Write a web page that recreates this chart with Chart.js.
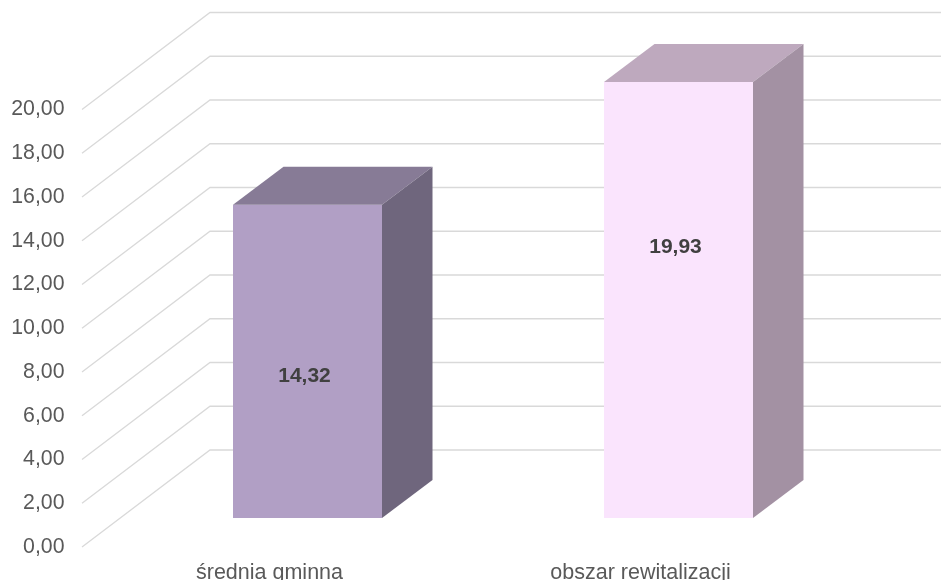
<!DOCTYPE html>
<html><head><meta charset="utf-8">
<style>html,body{margin:0;padding:0;background:#fff;overflow:hidden}canvas{display:block}</style>
<script src="https://cdn.jsdelivr.net/npm/chart.js@4"></script>
</head><body><canvas id="c" width="941" height="580"></canvas>
<script>
const categories = ["średnia gminna", "obszar rewitalizacji"];
const values = [14.32, 19.93];
const labelLevels = [7.86, 13.76];
const frontColors = ["#B19FC5", "#FAE4FD"];
const topColors = ["#877B96", "#BEA9BE"];
const sideColors = ["#6F667D", "#A391A3"];
const yMin = 0, yMax = 20, yStep = 2;

const FONT = "Liberation Sans, Arial, sans-serif";
const WALL = {dx: 128, dy: -97};
const BAR_SHIFT = {dx: 38, dy: -29};
const BAR_DEPTH = {dx: 50.5, dy: -38};
const fmt = v => v.toFixed(2).replace(".", ",");

const scene3d = {
  id: "scene3d",
  beforeDatasetsDraw(chart) {
    const {ctx, scales: {y}, chartArea: a, width} = chart;
    ctx.save();
    ctx.strokeStyle = "#D9D9D9";
    ctx.lineWidth = 1.3;
    for (let v = yMin; v <= yMax; v += yStep) {
      const p = y.getPixelForValue(v);
      ctx.beginPath();
      ctx.moveTo(a.left - 2, p);
      ctx.lineTo(a.left - 2 + WALL.dx, p + WALL.dy);
      ctx.lineTo(width, p + WALL.dy);
      ctx.stroke();
    }
    ctx.restore();
    ctx.save();
    ctx.translate(BAR_SHIFT.dx, BAR_SHIFT.dy);
  },
  afterDatasetsDraw(chart) {
    const {ctx, scales: {y}} = chart;
    const bars = chart.getDatasetMeta(0).data;
    bars.forEach((b, i) => {
      const l = b.x - b.width / 2, r = b.x + b.width / 2;
      ctx.fillStyle = topColors[i];
      ctx.beginPath();
      ctx.moveTo(l, b.y);
      ctx.lineTo(l + BAR_DEPTH.dx, b.y + BAR_DEPTH.dy);
      ctx.lineTo(r + BAR_DEPTH.dx, b.y + BAR_DEPTH.dy);
      ctx.lineTo(r, b.y);
      ctx.closePath();
      ctx.fill();
      ctx.fillStyle = sideColors[i];
      ctx.beginPath();
      ctx.moveTo(r, b.y);
      ctx.lineTo(r + BAR_DEPTH.dx, b.y + BAR_DEPTH.dy);
      ctx.lineTo(r + BAR_DEPTH.dx, b.base + BAR_DEPTH.dy);
      ctx.lineTo(r, b.base);
      ctx.closePath();
      ctx.fill();
    });
    ctx.restore();
    ctx.save();
    ctx.fillStyle = "#404040";
    ctx.font = "bold 21px " + FONT;
    ctx.textAlign = "center";
    ctx.textBaseline = "middle";
    bars.forEach((b, i) => {
      ctx.fillText(fmt(values[i]), b.x + BAR_SHIFT.dx - 3, y.getPixelForValue(labelLevels[i]) + 1);
    });
    ctx.restore();
  }
};

new Chart(document.getElementById("c"), {
  type: "bar",
  data: {
    labels: categories,
    datasets: [{
      data: values,
      backgroundColor: frontColors,
      borderWidth: 0,
      barPercentage: 1,
      categoryPercentage: 149 / 371
    }]
  },
  options: {
    responsive: false,
    animation: false,
    layout: {padding: {left: 0, right: 115, top: 109.5, bottom: 0}},
    plugins: {legend: {display: false}, tooltip: {enabled: false}, title: {display: false}},
    scales: {
      x: {
        grid: {display: false, drawTicks: false},
        border: {display: false},
        afterFit(s) { s.height = 33; },
        ticks: {color: "#595959", font: {family: FONT, size: 21.5}, padding: 13, maxRotation: 0, autoSkip: false}
      },
      y: {
        min: yMin, max: yMax,
        grid: {display: false, drawTicks: false},
        border: {display: false},
        afterFit(s) { s.width = 84; },
        ticks: {stepSize: yStep, color: "#595959", font: {family: FONT, size: 21.3}, padding: 19.5, autoSkip: false, callback: v => fmt(v)}
      }
    }
  },
  plugins: [scene3d]
});
</script></body></html>
